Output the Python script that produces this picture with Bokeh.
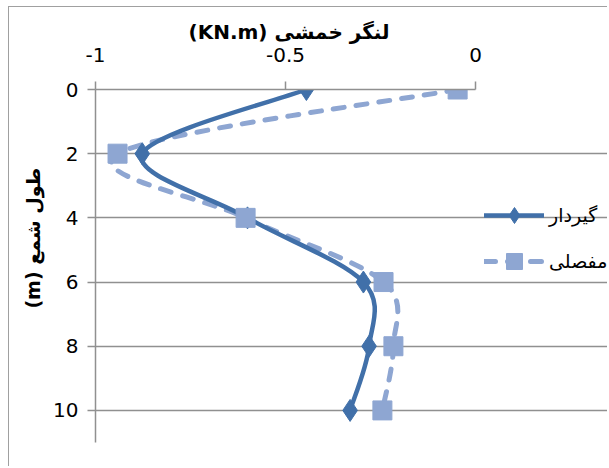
import math
from bokeh.plotting import figure
from bokeh.models import Range1d, FixedTicker, Legend, LegendItem, Title, InlineStyleSheet
from bokeh.embed import file_html
from bokeh.resources import INLINE

# ---- data ----
depth = [0, 2, 4, 6, 8, 10]
moment_fixed = [-0.445, -0.877, -0.600, -0.295, -0.280, -0.330]
moment_hinged = [-0.047, -0.942, -0.605, -0.242, -0.216, -0.245]

x_ticks = [-1, -0.5, 0]
x_tick_labels = ["-1", "-0.5", "0"]
y_ticks = [0, 2, 4, 6, 8, 10]
y_tick_labels = ["0", "2", "4", "6", "8", "10"]

name_fixed = "گیردار"
name_hinged = "مفصلی"
x_title = "(KN.m) لنگر خمشی"
y_title = "(m) طول شمع"

col_fixed = "#4170A9"
col_hinged = "#8EA6D2"
grid_col = "#909090"


def smooth(xs, ys):
    """Bezier control points of a smoothed (Catmull-Rom style) line through the points."""
    n = len(xs)
    out = dict(x0=[], y0=[], x1=[], y1=[], cx0=[], cy0=[], cx1=[], cy1=[])
    for i in range(n - 1):
        a = max(i - 1, 0)
        d = min(i + 2, n - 1)
        out["x0"].append(xs[i]); out["y0"].append(ys[i])
        out["x1"].append(xs[i + 1]); out["y1"].append(ys[i + 1])
        out["cx0"].append(xs[i] + (xs[i + 1] - xs[a]) / 6)
        out["cy0"].append(ys[i] + (ys[i + 1] - ys[a]) / 6)
        out["cx1"].append(xs[i + 1] - (xs[d] - xs[i]) / 6)
        out["cy1"].append(ys[i + 1] - (ys[d] - ys[i]) / 6)
    return out


border_css = InlineStyleSheet(css=":host { margin: 6px 0 0 8px; border-left: 1px solid #a0a0a0; border-top: 1px solid #a0a0a0; }")

# the plotting frame extends to the right edge so that the legend lives inside it;
# axis line and grid are bounded to the data range [-1, 0]
p = figure(width=599, height=460, output_backend="svg", toolbar_location=None,
           x_range=Range1d(-1, 0.35), y_range=Range1d(11, 0),
           x_axis_location="above",
           min_border_left=86, min_border_right=0, min_border_top=82, min_border_bottom=25,
           stylesheets=[border_css])
p.outline_line_color = None
p.background_fill_color = "white"
p.border_fill_color = "white"

# axes
p.xaxis.ticker = FixedTicker(ticks=x_ticks)
p.xaxis.major_label_overrides = dict(zip(x_ticks, x_tick_labels))
p.xaxis.bounds = (-1, 0)
p.yaxis.ticker = FixedTicker(ticks=y_ticks)
p.yaxis.major_label_overrides = dict(zip(y_ticks, y_tick_labels))
for ax in (p.xaxis[0], p.yaxis[0]):
    ax.axis_line_color = grid_col
    ax.axis_line_width = 1.5
    ax.major_tick_line_color = grid_col
    ax.major_tick_line_width = 1.5
    ax.major_tick_out = 8
    ax.major_tick_in = 0
    ax.minor_tick_line_color = None
    ax.major_label_text_font = "DejaVu Sans"
    ax.major_label_text_font_size = "20px"
    ax.major_label_text_color = "black"
p.xaxis.major_label_standoff = 20
p.yaxis.major_label_standoff = 9

# axis titles (placed along the [-1, 0] part of the frame)
p.add_layout(Title(text=x_title, align="left", offset=93, standoff=2,
                   text_font="DejaVu Sans", text_font_style="bold",
                   text_font_size="20px", text_color="black"), "above")
p.add_layout(Title(text=y_title, align="right", offset=78, standoff=13,
                   text_font="DejaVu Sans", text_font_style="bold",
                   text_font_size="19px", text_color="black"), "left")

# grid
p.xgrid.visible = False
p.ygrid.ticker = FixedTicker(ticks=y_ticks)
p.ygrid.bounds = (-1, 0)
p.ygrid.grid_line_color = grid_col
p.ygrid.grid_line_width = 1.5

# series
sf = smooth(moment_fixed, depth)
sh = smooth(moment_hinged, depth)
r_h_line = p.bezier(source=sh, x0="x0", y0="y0", x1="x1", y1="y1", cx0="cx0", cy0="cy0",
                    cx1="cx1", cy1="cy1", line_color=col_hinged, line_width=5,
                    line_dash="11 12", line_cap="round")
r_f_line = p.bezier(source=sf, x0="x0", y0="y0", x1="x1", y1="y1", cx0="cx0", cy0="cy0",
                    cx1="cx1", cy1="cy1", line_color=col_fixed, line_width=4.5,
                    line_cap="round")
r_f_pts = p.scatter(moment_fixed, depth, marker="diamond", size=22,
                    fill_color=col_fixed, line_color=col_fixed)
r_h_pts = p.scatter(moment_hinged, depth, marker="square", size=19,
                    fill_color=col_hinged, line_color=col_hinged)

legend = Legend(items=[LegendItem(label=name_fixed, renderers=[r_f_line, r_f_pts]),
                       LegendItem(label=name_hinged, renderers=[r_h_line, r_h_pts])],
                location=(389, 161), orientation="vertical",
                glyph_width=60, glyph_height=40, label_height=40, spacing=6,
                padding=0, margin=0, label_standoff=5,
                border_line_alpha=0, background_fill_alpha=0,
                label_text_font="DejaVu Sans", label_text_font_size="19px",
                label_text_color="black")
p.add_layout(legend)

open("out.html", "w").write(file_html(p, INLINE))
